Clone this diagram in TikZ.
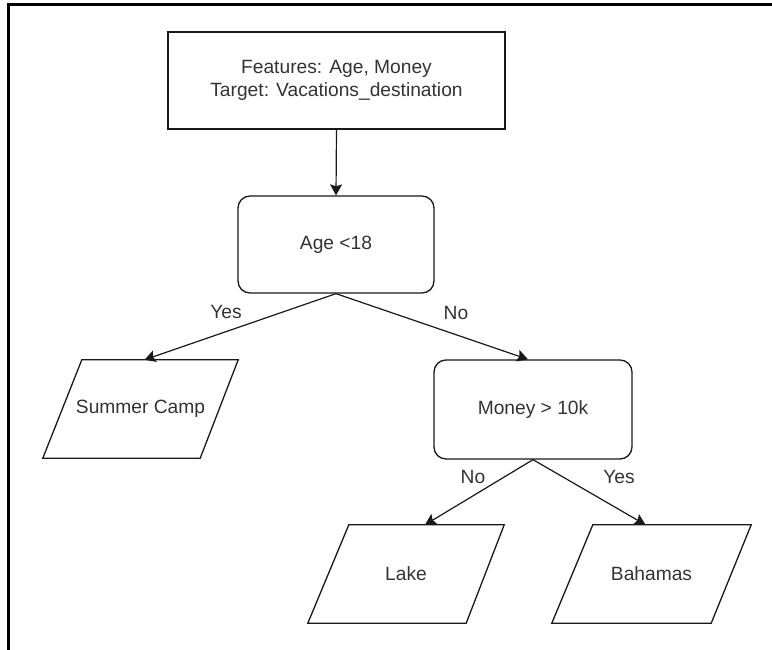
\documentclass[tikz,border=0pt]{standalone}
\usepackage{fontspec}
\setmainfont{Liberation Sans}
\usetikzlibrary{arrows.meta,calc}
\begin{document}
\begin{tikzpicture}[x=1pt,y=-1pt,
  txt/.style={text=black!80,font=\fontsize{19.2}{23}\selectfont},
  box/.style={txt,draw=black!90,line width=1.3pt,inner sep=0pt,align=center},
  rbox/.style={box,rounded corners=12pt},
  pbox/.style={txt,inner sep=0pt,align=center},
  para/.style={draw=black!90,line width=1.3pt,line join=miter},
  conn/.style={draw=black!90,line width=1.2pt,-{Stealth[length=11pt,width=12pt,inset=2pt]}},
  lbl/.style={txt}]
\useasboundingbox (0,0) rectangle (772,650);
% frame
\draw[line width=3pt] (8.5,650) -- (8.5,5) -- (772,5);
% nodes
\node[box,minimum width=337pt,minimum height=97pt] (top) at (336.5,80.5)
  {Features: Age, Money\\Target: Vacations\_destination};
\node[rbox,minimum width=196pt,minimum height=97pt] (age) at (336,244.5) {Age <18};
\node[rbox,minimum width=198pt,minimum height=99pt] (money) at (533,409.5) {Money > 10k};
\node[pbox,minimum width=195pt,minimum height=98pt] (summer) at (140.5,409) {Summer Camp};
\node[pbox,minimum width=196pt,minimum height=98pt] (lake) at (406,574) {Lake};
\node[pbox,minimum width=199pt,minimum height=98pt] (bahamas) at (651.5,574) {Bahamas};
% parallelogram outlines
\draw[para] ([xshift=39pt]summer.north west) -- (summer.north east)
  -- ([xshift=-38pt]summer.south east) -- (summer.south west) -- cycle;
\draw[para] ([xshift=41pt]lake.north west) -- (lake.north east)
  -- ([xshift=-38pt]lake.south east) -- (lake.south west) -- cycle;
\draw[para] ([xshift=41pt]bahamas.north west) -- (bahamas.north east)
  -- ([xshift=-40pt]bahamas.south east) -- (bahamas.south west) -- cycle;
% connectors
\draw[conn] (top.south) -- (age.north);
\draw[conn] (age.south) -- ([xshift=4pt]summer.north);
\draw[conn] (age.south) -- ([xshift=-5pt]money.north);
\draw[conn] (money.south) -- ([xshift=19pt]lake.north);
\draw[conn] (money.south) -- ([xshift=-6pt]bahamas.north);
% labels
\node[lbl] (l1) at (226,312) {Yes};
\node[lbl] (l2) at (456,313) {No};
\node[lbl] (l3) at (473,477) {No};
\node[lbl] (l4) at (619,477) {Yes};
\end{tikzpicture}
\end{document}
